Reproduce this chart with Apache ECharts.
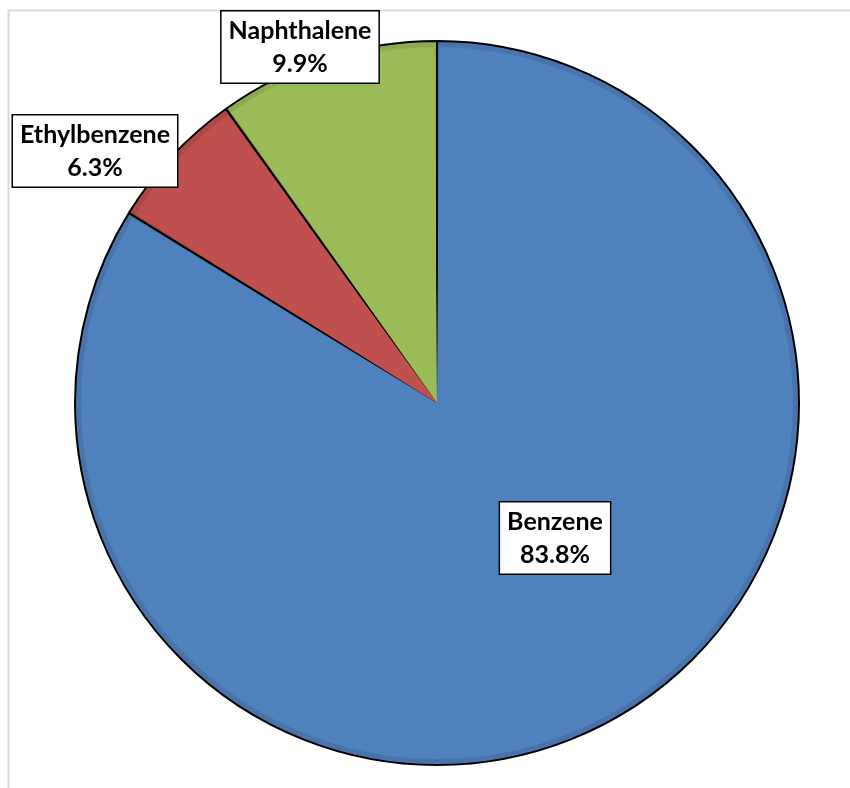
<!DOCTYPE html>
<html>
<head>
<meta charset="utf-8">
<script src="https://cdn.jsdelivr.net/npm/echarts@6/dist/echarts.min.js"></script>
<style>html,body{margin:0;padding:0;background:#fff;}#c{width:850px;height:788px;}</style>
</head>
<body>
<div id="c"></div>
<script>
const categories = ['Benzene', 'Ethylbenzene', 'Naphthalene'];
const values = [83.8, 6.3, 9.9];
const colors = ['#4f81bd', '#c0504d', '#9bbb59'];
const edgeColors = ['#4874ab', '#ad4845', '#8caa50'];
const labelSpots = [[555, 538], [95, 151], [300, 47]];

const chart = echarts.init(document.getElementById('c'));
chart.setOption({
  animation: false,
  backgroundColor: '#fff',
  graphic: [{
    type: 'rect', silent: true, z: -10,
    shape: {x: 8.5, y: 10.5, width: 1000, height: 1000},
    style: {fill: 'none', stroke: '#d9d9d9', lineWidth: 2}
  }],
  series: [{
    type: 'pie',
    z: 1,
    silent: true,
    center: [437, 403],
    radius: [0, 362],
    startAngle: 90,
    clockwise: true,
    data: categories.map((c, i) => ({name: c, value: values[i], itemStyle: {color: edgeColors[i]}})),
    itemStyle: {borderColor: '#000', borderWidth: 2},
    label: {show: false},
    labelLine: {show: false}
  }, {
    type: 'pie',
    z: 2,
    center: [437, 403],
    radius: [0, 356],
    startAngle: 90,
    clockwise: true,
    padAngle: 0.8,
    data: categories.map((c, i) => ({name: c, value: values[i], itemStyle: {color: colors[i]}})),
    itemStyle: {borderWidth: 0},
    label: {
      show: true,
      position: 'inside',
      formatter: p => p.name + '\n' + p.value.toFixed(1) + '%',
      fontFamily: 'Lato',
      fontWeight: 'bold',
      fontSize: 25,
      lineHeight: 33,
      color: '#000',
      align: 'center',
      backgroundColor: '#fff',
      borderColor: '#000',
      borderWidth: 1.5,
      padding: [3, 7, 2, 7]
    },
    labelLine: {show: false},
    labelLayout: p => ({x: labelSpots[p.dataIndex][0], y: labelSpots[p.dataIndex][1], align: 'center', verticalAlign: 'middle'})
  }]
});
</script>
</body>
</html>
